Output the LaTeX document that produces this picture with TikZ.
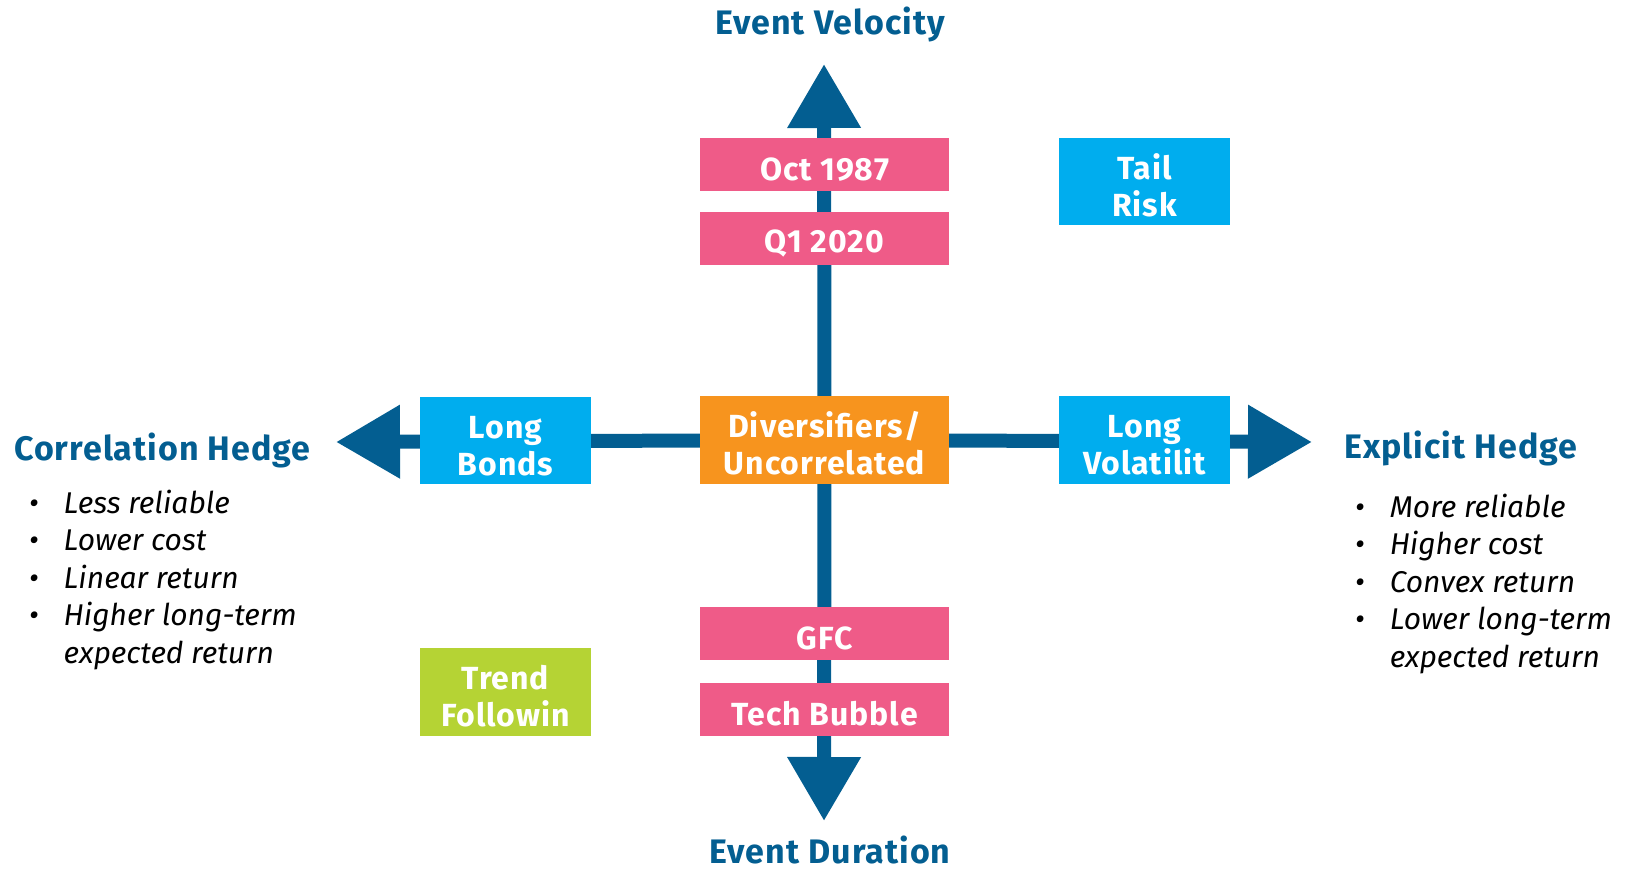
\documentclass[tikz,border=0pt]{standalone}
\usepackage{fontspec}
\setmainfont{Fira Sans}
\newfontfamily\headfont[LetterSpace=3.0]{Fira Sans}
\usetikzlibrary{arrows.meta,backgrounds}

\definecolor{axisblue}{RGB}{3,94,145}
\definecolor{eventpink}{RGB}{239,91,136}
\definecolor{hedgecyan}{RGB}{0,173,238}
\definecolor{divorange}{RGB}{247,148,30}
\definecolor{trendgreen}{RGB}{181,211,52}

\begin{document}
\begin{tikzpicture}[x=1pt,y=-1pt,
    twoline/.style={execute at begin node={\rule{0pt}{70pt}}}]
      \useasboundingbox (0,0) rectangle (1629,869);
      \begin{scope}[every node/.style={inner sep=0pt,text=white,align=center,
          font=\headfont\bfseries\fontsize{32}{37}\selectfont,
          execute at begin node={\rule{0pt}{32pt}}}]
        \node[fill=eventpink,minimum width=249pt,minimum height=53pt] (oct) at (824.5,164.5) {Oct 1987};
        \node[fill=eventpink,minimum width=249pt,minimum height=53pt] (q1) at (824.5,238.5) {Q1 2020};
        \node[fill=eventpink,minimum width=249pt,minimum height=53pt] (gfc) at (824.5,633.5) {GFC};
        \node[fill=eventpink,minimum width=249pt,minimum height=53pt] (tech) at (824.5,709.5) {Tech Bubble};
        \node[twoline,fill=hedgecyan,minimum width=171pt,minimum height=87pt] (tail) at (1144.5,181.5) {Tail\\Risk};
        \node[twoline,fill=hedgecyan,minimum width=171pt,minimum height=87pt] (bonds) at (505.5,440.5) {Long\\Bonds};
        \node[twoline,fill=divorange,minimum width=249pt,minimum height=88pt] (div) at (824.5,440) {Diversifiers/\\Uncorrelated};
        \node[twoline,fill=hedgecyan,minimum width=171pt,minimum height=88pt] (vol) at (1144.5,440) {Long\\Volatilit};
        \node[twoline,fill=trendgreen,minimum width=171pt,minimum height=88pt] (trend) at (505.5,692) {Trend\\Followin};
      \end{scope}
      \coordinate (velocity) at (824,64);
      \coordinate (duration) at (824,821);
      \coordinate (corr) at (336,442);
      \coordinate (explicit) at (1312,442);
      \begin{scope}[on background layer,
          every edge/.style={draw=axisblue,line width=14pt,-{Triangle[width=70pt,length=64pt]}}]
        \path (div) edge (velocity);
        \path (div) edge (duration);
        \path (div) edge (corr);
        \path (div) edge (explicit);
      \end{scope}
      \begin{scope}[every node/.style={text=axisblue,inner sep=0pt,
          font=\headfont\bfseries\fontsize{34}{38}\selectfont}]
        \node[anchor=base] (velolabel) at (830,35) {Event Velocity};
        \node[anchor=base] (durlabel) at (830,863) {Event Duration};
        \node[anchor=base west] (corrlabel) at (14,460) {Correlation Hedge};
        \node[anchor=base west] (explabel) at (1344,458) {Explicit Hedge};
      \end{scope}
      \begin{scope}[every node/.style={anchor=base west,inner sep=0pt,
          font=\itshape\fontsize{30}{37.5}\selectfont}]
        \node (corrlist) at (29,513) {\begin{tabular}[t]{@{}l@{\hspace{25pt}}l@{}}
            \textbullet & Less reliable\\
            \textbullet & Lower cost\\
            \textbullet & Linear return\\
            \textbullet & Higher long-term\\
                        & expected return
          \end{tabular}};
        \node (explist) at (1355,517) {\begin{tabular}[t]{@{}l@{\hspace{25pt}}l@{}}
            \textbullet & More reliable\\
            \textbullet & Higher cost\\
            \textbullet & Convex return\\
            \textbullet & Lower long-term\\
                        & expected return
          \end{tabular}};
      \end{scope}
    \end{tikzpicture}
\end{document}
